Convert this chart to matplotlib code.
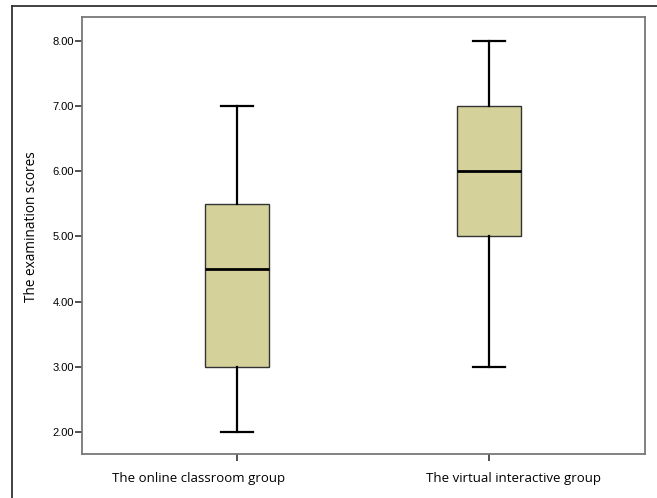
import matplotlib
matplotlib.use('agg')
import matplotlib.pyplot as plt
from matplotlib.lines import Line2D
from matplotlib.transforms import ScaledTranslation
from matplotlib.ticker import MultipleLocator, FormatStrFormatter

groups = ['The online classroom group', 'The virtual interactive group']
whislo = [2.0, 3.0]
q1 = [3.0, 5.0]
med = [4.5, 6.0]
q3 = [5.5, 7.0]
whishi = [7.0, 8.0]

plt.rcParams['font.family'] = ['Open Sans', 'DejaVu Sans']

fig = plt.figure(figsize=(6.57, 4.98), dpi=100)
ax = fig.add_axes([82/657, 44/498, 563/657, 437/498])

stats = []
for i in range(len(groups)):
    stats.append({'label': groups[i], 'whislo': whislo[i], 'q1': q1[i], 'med': med[i],
                  'q3': q3[i], 'whishi': whishi[i], 'fliers': []})

ax.bxp(stats, positions=[1, 2], widths=0.253, patch_artist=True, showfliers=False,
       boxprops=dict(facecolor='#d4d19b', edgecolor='#333333', linewidth=1.0),
       medianprops=dict(color='black', linewidth=2.0),
       whiskerprops=dict(color='black', linewidth=1.6),
       capprops=dict(color='black', linewidth=1.6),
       capwidths=0.127)

ax.set_xlim(0.387, 2.617)
ax.set_ylim(1.663, 8.367)
ax.yaxis.set_major_locator(MultipleLocator(1))
ax.yaxis.set_major_formatter(FormatStrFormatter('%.2f'))
ax.set_ylabel('The examination scores', fontsize=9.8)
ax.yaxis.set_label_coords(-0.077, 0.52)

for s in ax.spines.values():
    s.set_color('#777777')
    s.set_linewidth(1.3)
ax.tick_params(axis='y', direction='out', length=5, width=1.2, color='#333333', pad=1)
ax.tick_params(axis='x', direction='out', length=5, width=1.2, color='#333333', labelsize=9.5, pad=8)
for lab in ax.get_yticklabels():
    lab.set_family(['Liberation Sans', 'DejaVu Sans'])
    lab.set_fontsize(8)

# SPSS places the category labels a little off the tick marks
for lab, dx in zip(ax.get_xticklabels(), [-38, 24]):
    lab.set_transform(lab.get_transform() + ScaledTranslation(dx/100, 0, fig.dpi_scale_trans))

# outer frame (left and top only, as in the cropped source)
fig.add_artist(Line2D([12/657, 12/657], [0, 1 - 6/498], transform=fig.transFigure, color='#333333', linewidth=1.3))
fig.add_artist(Line2D([12/657, 1], [1 - 6/498, 1 - 6/498], transform=fig.transFigure, color='#333333', linewidth=1.3))

plt.savefig('out.png', dpi=100)
plt.close()
